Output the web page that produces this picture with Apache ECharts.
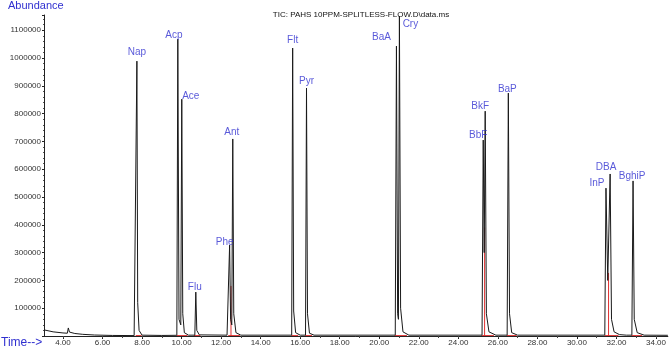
<!DOCTYPE html>
<html>
<head>
<meta charset="utf-8">
<script src="https://cdn.jsdelivr.net/npm/echarts@6/dist/echarts.min.js"></script>
<style>
  html, body { margin: 0; padding: 0; background: #fff; }
  #chart { width: 669px; height: 349px; }
</style>
</head>
<body>
<div id="chart"></div>
<script>
// peaks (retention time in min, apex abundance)
const peakNames = ['Nap', 'Acp', 'Ace', 'Flu', 'Phe', 'Ant', 'Flt', 'Pyr', 'BaA', 'Cry', 'BbF', 'BkF', 'BaP', 'InP', 'DBA', 'BghiP']
const peakTimes = [7.74, 9.81, 10.01, 10.72, 12.43, 12.59, 15.62, 16.32, 20.87, 21.02, 25.26, 25.36, 26.53, 31.47, 31.68, 32.84]
const peakHeights = [989000, 1068000, 852000, 158000, 327000, 709000, 1036000, 892000, 1043000, 1151000, 705000, 809000, 874000, 532000, 583000, 558000]

// TIC trace [time, abundance]
const trace = [
  [3.04, 22000], [3.5, 15000], [4.0, 11000], [4.22, 10000], [4.27, 29000], [4.33, 14000], [4.6, 9000],
  [5.0, 6000], [5.6, 3500], [6.5, 2000], [7.6, 1500],
  [7.69, 2000], [7.74, 989000], [7.78, 120000], [7.85, 20000], [8.0, 3000], [9.0, 2000],
  [9.76, 2500], [9.81, 1068000], [9.87, 60000], [9.96, 40000], [10.01, 852000], [10.06, 80000], [10.14, 12000], [10.35, 3000],
  [10.67, 3000], [10.72, 158000], [10.77, 20000], [10.9, 4000], [12.3, 3000],
  [12.38, 3000], [12.43, 327000], [12.48, 60000], [12.54, 40000], [12.59, 709000], [12.64, 80000], [12.75, 12000], [13.0, 3000],
  [15.57, 3000], [15.62, 1036000], [15.67, 90000], [15.77, 12000], [16.0, 3000],
  [16.27, 3000], [16.32, 892000], [16.37, 80000], [16.47, 10000], [16.7, 3000],
  [20.81, 3000], [20.87, 1043000], [20.93, 80000], [20.97, 60000], [21.02, 1151000], [21.08, 100000], [21.2, 15000], [21.5, 3000],
  [25.2, 3000], [25.26, 705000], [25.31, 300000], [25.36, 809000], [25.42, 80000], [25.55, 15000], [25.9, 3000],
  [26.47, 3000], [26.53, 874000], [26.59, 80000], [26.7, 12000], [27.0, 3000],
  [29.7, 3000], [29.8, 8000], [29.9, 3000],
  [31.41, 3000], [31.47, 532000], [31.56, 200000], [31.68, 583000], [31.75, 60000], [31.88, 15000], [32.15, 5000], [32.5, 3000],
  [32.78, 3000], [32.84, 558000], [32.9, 60000], [33.05, 12000], [33.4, 3000], [34.6, 2500]
]

// integration baselines and drop lines (red)
const integration = [
  [7.68, 1500], [7.98, 1500], null,
  [9.75, 1500], [10.3, 1500], null,
  [10.62, 1500], [10.95, 1500], null,
  [12.36, 1500], [12.95, 1500], null,
  [12.5, 0], [12.5, 180000], null,
  [15.55, 1500], [15.9, 1500], null,
  [16.25, 1500], [16.6, 1500], null,
  [20.78, 1500], [21.4, 1500], null,
  [25.18, 1500], [25.8, 1500], null,
  [25.33, 0], [25.33, 390000], null,
  [26.45, 1500], [26.95, 1500], null,
  [31.4, 1500], [32.1, 1500], null,
  [31.6, 0], [31.6, 227000], null,
  [32.76, 1500], [33.3, 1500]
]

const xTicks = [4, 6, 8, 10, 12, 14, 16, 18, 20, 22, 24, 26, 28, 30, 32, 34]
const xMin = 3.04
const xMax = 34.6
const yMax = 1155000

// label placement tweaks: [dx px, centre above apex px]
const labelShift = {
  Nap: [0, 9], Acp: [-4, 4], Ace: [9, 3], Flu: [-1, 5], Phe: [-5, 3], Ant: [-1, 7],
  Flt: [0, 8], Pyr: [0, 7], BaA: [-15, 9], Cry: [11, -8], BbF: [-5, 5], BkF: [-5, 5],
  BaP: [-1, 4], InP: [-9, 5], DBA: [-4, 7], BghiP: [-1, 5]
}

const blue = '#3030d0'
const font = 'Liberation Sans, Arial, sans-serif'
const chart = echarts.init(document.getElementById('chart'))

chart.setOption({
  animation: false,
  textStyle: { fontFamily: font },
  title: [{
    text: 'TIC: PAHS 10PPM-SPLITLESS-FLOW.D\\data.ms',
    left: 356,
    top: 6,
    textAlign: 'center',
    textStyle: { fontSize: 8, fontWeight: 'normal', color: '#111' }
  }],
  graphic: [
    { type: 'text', left: 8, top: 0, style: { text: 'Abundance', fontSize: 11, fill: blue, fontFamily: font } },
    { type: 'text', left: 1, top: 337, style: { text: 'Time-->', fontSize: 12, fill: blue, fontFamily: font } }
  ],
  grid: { left: 44, right: 0, top: 15, bottom: 13 },
  xAxis: {
    type: 'value',
    min: xMin,
    max: xMax,
    axisLine: { onZero: false, lineStyle: { color: '#222', width: 1 } },
    axisTick: { length: 3, lineStyle: { color: '#222' }, customValues: xTicks },
    minorTick: { show: true, splitNumber: 5, length: 2, lineStyle: { color: '#444' } },
    axisLabel: {
      fontSize: 8, color: '#333', margin: 3,
      customValues: xTicks,
      formatter: v => v.toFixed(2)
    },
    splitLine: { show: false }
  },
  yAxis: {
    type: 'value',
    min: 0,
    max: yMax,
    interval: 100000,
    axisLine: { show: true, lineStyle: { color: '#222', width: 1 } },
    axisTick: { show: true, length: 2, lineStyle: { color: '#222' } },
    minorTick: { show: true, splitNumber: 5, length: 1, lineStyle: { color: '#555' } },
    axisLabel: {
      fontSize: 8, color: '#333', margin: 3,
      showMaxLabel: false,
      formatter: v => (v === 0 || v % 100000 !== 0 ? '' : String(v))
    },
    splitLine: { show: false }
  },
  series: [
    {
      type: 'line',
      data: integration,
      symbol: 'none',
      connectNulls: false,
      lineStyle: { color: '#e03030', width: 1 },
      z: 2
    },
    {
      type: 'line',
      data: trace,
      symbol: 'none',
      lineStyle: { color: '#1a1a1a', width: 1 },
      z: 3
    },
    {
      type: 'scatter',
      symbolSize: 0,
      data: peakNames.map((n, i) => ({
        value: [peakTimes[i], peakHeights[i]],
        name: n,
        label: {
          offset: [labelShift[n][0], 5 - labelShift[n][1]]
        }
      })),
      label: {
        show: true,
        position: 'top',
        distance: 0,
        formatter: p => p.name,
        fontSize: 10,
        lineHeight: 10,
        color: blue
      },
      z: 4
    }
  ]
})
</script>
</body>
</html>
